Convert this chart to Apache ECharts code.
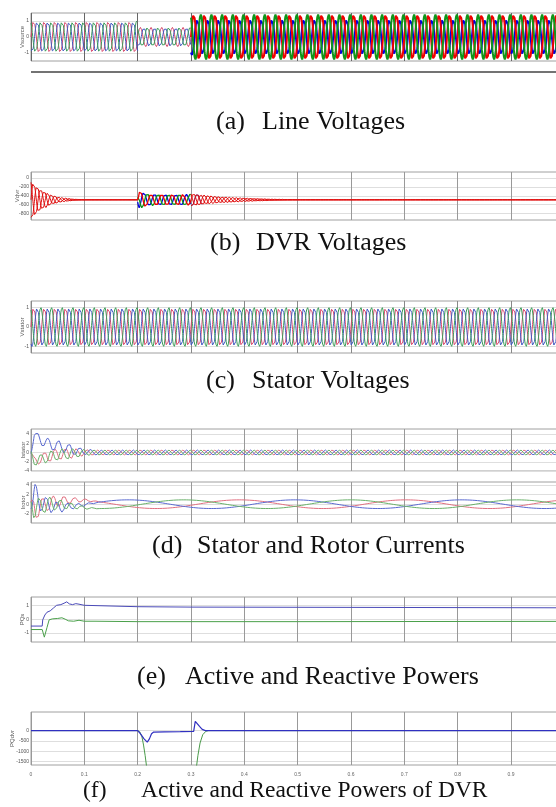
<!DOCTYPE html>
<html>
<head>
<meta charset="utf-8">
<script src="https://cdn.jsdelivr.net/npm/echarts@6/dist/echarts.min.js"></script>
<style>
  html, body { margin: 0; padding: 0; background: #fff; }
  #chart { width: 556px; height: 807px; }
</style>
</head>
<body>
<div id="chart"></div>
<script>
// ---- values ----
const FREQ = 50;            // grid frequency (Hz)
const SLIP_FREQ = 3.2;      // rotor current frequency (Hz)
const T_END = 0.99;         // right edge of the crop
const PHASE = [0, -2 * Math.PI / 3, 2 * Math.PI / 3];

const timeTicks = [0, 0.1, 0.2, 0.3, 0.4, 0.5, 0.6, 0.7, 0.8, 0.9];

// envelopes are [t, amplitude] keypoints
const vsourcePre = [[0, 1.0], [0.2, 1.0]];
const vsourceSag = [[0.2, 0.6], [0.3, 0.6]];
const vsourcePostRG = [[0.3, 1.4], [T_END, 1.4]];
const vsourcePostB = [[0.3, 1.12], [T_END, 1.12]];

const vdvrCenter = [[0, -490], [T_END, -490]];
const vdvrStart = [[0, 450], [0.01, 330], [0.02, 230], [0.03, 160], [0.04, 110], [0.05, 70], [0.06, 45], [0.08, 15], [0.1, 4], [0.2, 2]];
const vdvrSag = [[0.2, 60], [0.203, 200], [0.21, 170], [0.22, 130], [0.3, 120]];
const vdvrRecover = [[0.3, 150], [0.32, 115], [0.35, 75], [0.4, 38], [0.45, 15], [0.5, 5], [0.6, 2], [T_END, 1]];

const vstatorAmp = [[0, 1.0], [T_END, 1.0]];

const istatorAc = [[0, 0.3], [0.01, 1.0], [0.03, 1.3], [0.07, 1.2], [0.1, 0.7], [0.12, 0.55], [T_END, 0.55]];
const istatorDc = [
  [[0, 0], [0.006, -1.8], [0.015, -1.5], [0.03, -0.9], [0.05, -0.4], [0.1, 0], [T_END, 0]],
  [[0, 0], [0.006, 3.8], [0.015, 3.0], [0.03, 1.9], [0.06, 1.2], [0.08, 0.4], [0.12, 0], [T_END, 0]],
  [[0, 0], [0.006, -2.0], [0.015, -1.6], [0.03, -1.0], [0.05, -0.5], [0.1, 0], [T_END, 0]]
];

const irotorSlip = [[0, 0.6], [0.1, 0.9], [T_END, 0.9]];
const irotorTr = [[0, 0.5], [0.005, 2.4], [0.02, 1.8], [0.05, 1.2], [0.08, 0.6], [0.1, 0.3], [0.13, 0], [T_END, 0]];
const irotorDc = [
  [[0, 0], [0.008, -1.2], [0.03, -0.3], [0.06, 0], [T_END, 0]],
  [[0, 0], [0.008, 2.6], [0.02, 0.8], [0.05, 0], [T_END, 0]],
  [[0, 0], [0.008, -1.4], [0.03, -0.3], [0.06, 0], [T_END, 0]]
];

// active / reactive power of the machine, [t, pu]
const pStator = [[0, -0.5], [0.021, -0.5], [0.022, -0.05], [0.026, 0.3], [0.03, 0.5], [0.036, 0.6], [0.042, 0.8],
  [0.048, 1.0], [0.056, 1.05], [0.062, 1.15], [0.067, 1.25], [0.072, 1.1], [0.078, 1.05], [0.084, 1.12],
  [0.09, 1.08], [0.1, 1.0], [0.15, 0.95], [0.2, 0.9], [0.3, 0.87], [0.6, 0.85], [T_END, 0.82]];
const qStator = [[0, -0.75], [0.021, -0.75], [0.025, -1.3], [0.03, -0.6], [0.034, -0.05], [0.04, 0.02],
  [0.05, 0.05], [0.058, 0.1], [0.064, 0.0], [0.07, -0.12], [0.08, -0.15], [0.09, -0.08], [0.1, -0.15],
  [0.12, -0.15], [0.2, -0.18], [0.5, -0.18], [T_END, -0.16]];

// active / reactive power of the DVR, [t, W]
const pDvr = [[0, 0], [0.2, 0], [0.205, -150], [0.212, -400], [0.218, -560], [0.222, -400], [0.226, -150],
  [0.23, -70], [0.25, -60], [0.28, -50], [0.305, -40], [0.308, 450], [0.311, 380], [0.316, 200],
  [0.321, 60], [0.327, 0], [T_END, 0]];
const qDvr = [[0, 0], [0.2, 0], [0.204, -60], [0.208, -300], [0.211, -700], [0.214, -1200], [0.217, -1800],
  [0.31, -1800], [0.313, -1200], [0.317, -600], [0.322, -200], [0.328, -30], [0.333, 0], [T_END, 0]];

// ---- helpers ----
const DT = 0.0004;
function env(keys, t) {
  if (t <= keys[0][0]) return keys[0][1];
  for (let i = 1; i < keys.length; i++) {
    if (t <= keys[i][0]) {
      const [t0, v0] = keys[i - 1], [t1, v1] = keys[i];
      return t1 === t0 ? v1 : v0 + (v1 - v0) * (t - t0) / (t1 - t0);
    }
  }
  return keys[keys.length - 1][1];
}
// comps: [{f, ph, amp}] , base: keypoints
function signal(t0, t1, comps, base) {
  const pts = [];
  for (let t = t0; t <= t1 + 1e-9; t += DT) {
    let v = base ? env(base, t) : 0;
    comps.forEach(c => { v += env(c.amp, t) * Math.sin(2 * Math.PI * c.f * t + c.ph); });
    pts.push([t, v]);
  }
  return pts;
}

const MUTED = ['#d8466a', '#4058c0', '#3c9c5a'];
const BOLD = ['#f00000', '#0000e0', '#10961a'];
const PASTEL = ['#e07080', '#5a6ad0', '#6ab06a'];

const series = [];
function addLine(idx, data, color, width) {
  series.push({
    type: 'line', xAxisIndex: idx, yAxisIndex: idx, data: data,
    showSymbol: false, silent: true, animation: false, clip: true,
    lineStyle: { color: color, width: width || 1 }
  });
}

// (a) source voltages
[0, 1, 2].forEach(k => addLine(0, signal(0, 0.2, [{ f: FREQ, ph: PHASE[k], amp: vsourcePre }]), MUTED[k], 1));
[0, 1, 2].forEach(k => addLine(0, signal(0.2, 0.3, [{ f: FREQ, ph: PHASE[k], amp: vsourceSag }]), MUTED[k], 1));
[1, 0, 2].forEach(k => addLine(0, signal(0.3, T_END, [{ f: FREQ, ph: PHASE[k], amp: k === 1 ? vsourcePostB : vsourcePostRG }]), BOLD[k], 2));

// (b) DVR voltages
[0, 1, 2].forEach(k => addLine(1, signal(0, 0.2, [{ f: FREQ, ph: PHASE[k], amp: vdvrStart }], vdvrCenter), '#e01010', 1));
[1, 2, 0].forEach(k => addLine(1, signal(0.2, 0.3, [{ f: FREQ, ph: PHASE[k], amp: vdvrSag }], vdvrCenter), BOLD[k], 1.3));
addLine(1, signal(0.3, 0.32, [{ f: FREQ, ph: PHASE[1], amp: vdvrRecover }], vdvrCenter), '#3030b0', 1);
[0, 1, 2].forEach(k => addLine(1, signal(0.3, T_END, [{ f: FREQ, ph: PHASE[k], amp: vdvrRecover }], vdvrCenter), '#e01010', 1));

// (c) stator voltages
[0, 1, 2].forEach(k => addLine(2, signal(0, T_END, [{ f: FREQ, ph: PHASE[k], amp: vstatorAmp }]), MUTED[k], 1));

// (d) stator and rotor currents
[0, 1, 2].forEach(k => addLine(3, signal(0, T_END, [{ f: FREQ, ph: PHASE[k], amp: istatorAc }], istatorDc[k]), PASTEL[k], 1));
[0, 1, 2].forEach(k => addLine(4, signal(0, T_END, [
  { f: SLIP_FREQ, ph: PHASE[k], amp: irotorSlip },
  { f: FREQ, ph: PHASE[k] + 1, amp: irotorTr }
], irotorDc[k]), PASTEL[k], 1));

// (e) active and reactive power
addLine(5, pStator, '#4a4ab8', 1);
addLine(5, qStator, '#4aa04a', 1);

// (f) DVR powers
addLine(6, qDvr, '#4a9a4a', 1);
addLine(6, pDvr, '#3030c0', 1.2);

// ---- layout ----
const panels = [
  { top: 13, height: 48, min: -1.5, max: 1.5, ticks: [-1, 0, 1], name: 'Vsource', gap: 6, vcol: '#666' },
  { top: 172, height: 48, min: -940, max: 130, ticks: [0, -200, -400, -600, -800], name: 'Vdvr', gap: 11, vcol: '#999' },
  { top: 301, height: 52, min: -1.33, max: 1.33, ticks: [-1, 0, 1], name: 'Vstator', gap: 6, vcol: '#888' },
  { top: 429, height: 42, min: -4, max: 5.1, ticks: [-4, -2, 0, 2, 4], name: 'Istator', gap: 5, vcol: '#999' },
  { top: 482, height: 41, min: -3.9, max: 4.6, ticks: [-2, 0, 2, 4], name: 'Irotor', gap: 5, vcol: '#999' },
  { top: 597, height: 45, min: -1.65, max: 1.6, ticks: [-1, 0, 1], name: 'PQs', gap: 6, vcol: '#999' },
  { top: 712, height: 53, min: -1665, max: 900, ticks: [0, -500, -1000, -1500], name: 'PQdvr', gap: 16, vcol: '#999' }
];

const grids = [], xAxes = [], yAxes = [];
panels.forEach((p, i) => {
  grids.push({
    left: 31, right: -3, top: p.top, height: p.height,
    containLabel: false, outerBoundsMode: 'none',
    show: true, borderColor: '#a0a0a0', borderWidth: 1
  });
  const last = i === panels.length - 1;
  xAxes.push({
    type: 'value', gridIndex: i, min: 0, max: T_END, interval: 0.1,
    axisLine: { show: false }, axisTick: { show: false },
    axisLabel: {
      show: last, fontSize: 5, color: '#666', margin: 7,
      customValues: timeTicks,
      formatter: v => (v === 0 ? '0' : v.toFixed(1))
    },
    splitLine: { show: true, lineStyle: { color: p.vcol, width: 1 } }
  });
  yAxes.push({
    type: 'value', gridIndex: i, min: p.min, max: p.max,
    name: p.name, nameLocation: 'middle', nameGap: p.gap, nameRotate: 90,
    nameMoveOverlap: false,
    nameTextStyle: { fontSize: 6, color: '#555' },
    axisLine: { show: false },
    axisTick: { show: false, customValues: p.ticks },
    axisLabel: { fontSize: 5, color: '#555', margin: 2, customValues: p.ticks, formatter: v => String(v) },
    splitLine: { show: true, lineStyle: { color: '#dedede', width: 1 } }
  });
});

const SERIF = '"Liberation Serif", "Times New Roman", serif';
const captions = [
  { tag: '(a)', text: 'Line Voltages', x: 216, tx: 262, y: 122, size: 26 },
  { tag: '(b)', text: 'DVR Voltages', x: 210, tx: 256, y: 243, size: 26 },
  { tag: '(c)', text: 'Stator Voltages', x: 206, tx: 252, y: 381, size: 26 },
  { tag: '(d)', text: 'Stator and Rotor Currents', x: 152, tx: 197, y: 546, size: 26 },
  { tag: '(e)', text: 'Active and Reactive Powers', x: 137, tx: 185, y: 677, size: 26 },
  { tag: '(f)', text: 'Active and Reactive Powers of DVR', x: 83, tx: 141, y: 791, size: 23.5 }
];
const graphic = [
  { type: 'line', shape: { x1: 31, y1: 72, x2: 556, y2: 72 }, style: { stroke: '#444', lineWidth: 1.5 } }
];
captions.forEach(c => {
  const font = c.size + 'px ' + SERIF;
  graphic.push({ type: 'text', x: c.x, y: c.y, style: { text: c.tag, font: font, fill: '#111', textVerticalAlign: 'middle' } });
  graphic.push({ type: 'text', x: c.tx, y: c.y, style: { text: c.text, font: font, fill: '#111', textVerticalAlign: 'middle' } });
});

const chart = echarts.init(document.getElementById('chart'), null, { renderer: 'canvas' });
chart.setOption({
  animation: false,
  backgroundColor: '#fff',
  grid: grids,
  xAxis: xAxes,
  yAxis: yAxes,
  series: series,
  graphic: graphic
});
</script>
</body>
</html>
